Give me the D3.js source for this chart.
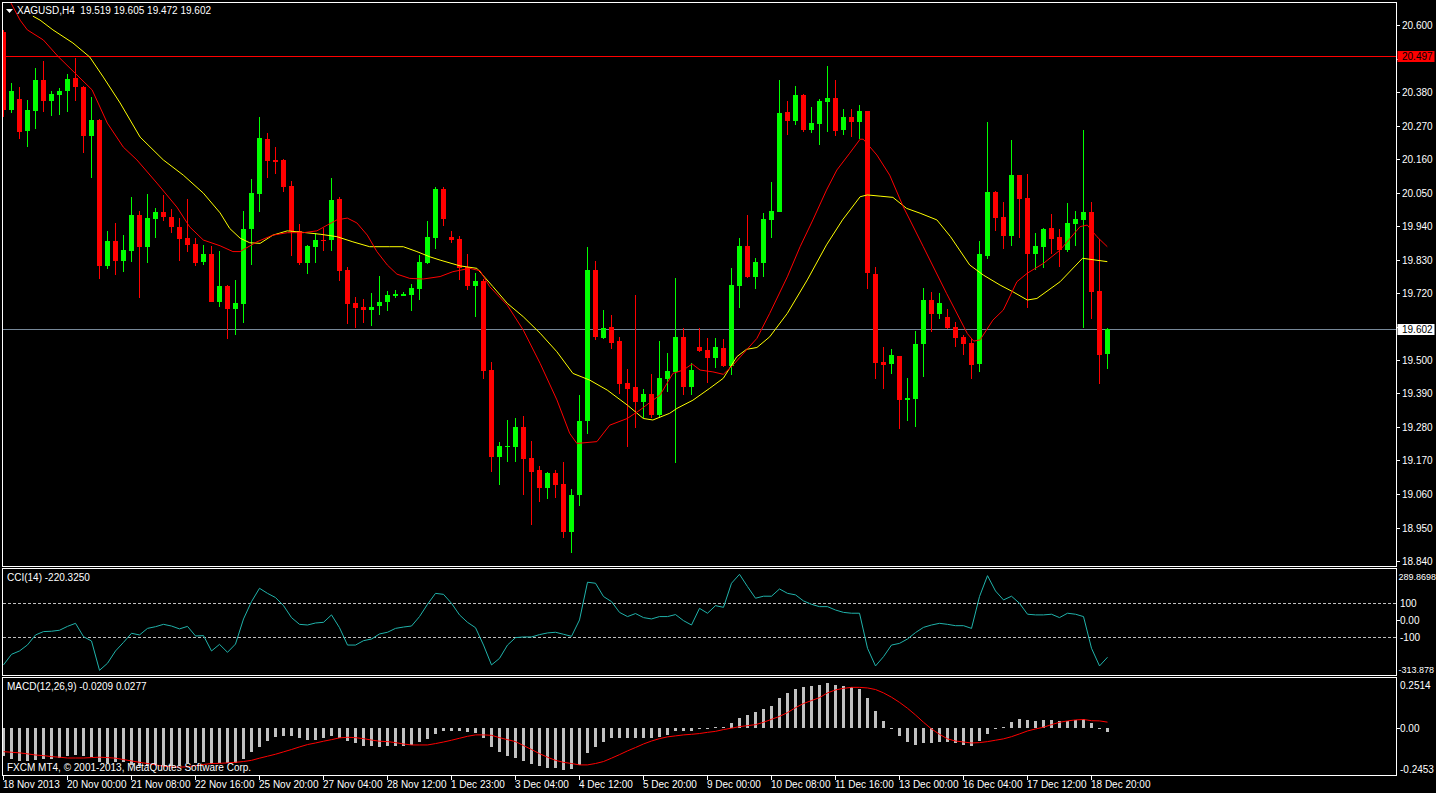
<!DOCTYPE html>
<html lang="en">
<head>
<meta charset="UTF-8" />
<title>XAGUSD,H4</title>
<script src="https://d3js.org/d3.v7.min.js"></script>
<style>
  html, body {
    margin: 0;
    padding: 0;
    background: #000;
    overflow: hidden;
  }
  svg {
    display: block;
    font-family: 'Liberation Sans', Arial, sans-serif;
    font-size: 10px;
  }
  text { fill: #fff; }
  .frame { fill: none; stroke: #fff; stroke-width: 1; shape-rendering: crispEdges; }
</style>
</head>
<body>
<div id="chart"></div>
<script>
  // ---- data ----
  const symbolTitle = 'XAGUSD,H4';
  const lastBar = ['19.519', '19.605', '19.472', '19.602'];

  const opens = [20.578,20.321,20.357,20.253,20.318,20.419,20.351,20.371,20.384,20.426,
    20.396,20.236,20.288,19.809,19.891,19.826,19.859,19.976,19.872,19.963,
    19.986,19.969,19.937,19.900,19.881,19.823,19.848,19.691,19.743,19.668,
    19.685,19.931,20.046,20.226,20.157,20.157,20.071,19.923,19.819,19.872,
    19.894,19.895,20.029,19.795,19.687,19.674,19.665,19.678,19.691,19.711,
    19.711,19.714,19.734,19.819,19.901,20.061,19.903,19.897,19.806,19.744,
    19.759,19.467,19.182,19.215,19.215,19.280,19.178,19.140,19.080,19.130,
    19.094,18.936,19.057,19.300,19.796,19.573,19.609,19.563,19.425,19.412,
    19.363,19.389,19.320,19.438,19.461,19.575,19.412,19.543,19.533,19.507,
    19.539,19.481,19.744,19.874,19.773,19.819,19.961,19.987,20.314,20.286,
    20.370,20.256,20.276,20.348,20.360,20.256,20.298,20.282,20.318,19.782,
    19.493,19.487,19.513,19.368,19.372,19.552,19.697,19.651,19.641,19.608,
    19.575,19.556,19.487,19.841,20.052,19.969,19.908,20.107,20.032,19.849,
    19.872,19.933,19.904,19.862,19.948,19.961,19.986,19.726,19.519];
  const highs = [20.583,20.409,20.396,20.354,20.459,20.482,20.383,20.393,20.439,20.492,
    20.400,20.364,20.292,19.924,19.950,19.910,20.035,19.989,20.045,19.999,
    20.042,19.996,19.966,20.029,19.900,19.877,19.874,19.859,19.746,19.763,
    19.989,20.094,20.298,20.245,20.199,20.160,20.088,19.946,19.878,19.918,
    19.934,20.097,20.035,19.806,19.707,19.700,19.721,19.776,19.727,19.731,
    19.723,19.749,19.845,19.956,20.068,20.068,19.923,19.907,19.849,19.786,
    19.767,19.493,19.232,19.304,19.310,19.316,19.235,19.153,19.133,19.140,
    19.165,19.077,19.385,19.871,19.826,19.665,19.649,19.576,19.470,19.713,
    19.406,19.455,19.563,19.524,19.768,19.605,19.489,19.605,19.572,19.572,
    19.569,19.801,19.900,19.976,19.835,19.983,20.084,20.418,20.350,20.400,
    20.373,20.331,20.357,20.465,20.419,20.324,20.324,20.337,20.318,19.805,
    19.543,19.536,19.513,19.441,19.595,19.736,19.723,19.720,19.667,19.625,
    19.582,19.572,19.891,20.281,20.055,20.019,20.222,20.107,20.111,19.917,
    19.933,19.979,19.930,20.015,19.989,20.255,20.019,19.897,19.605];
  const lows = [20.298,20.312,20.225,20.200,20.259,20.315,20.302,20.305,20.315,20.351,
    20.181,20.098,19.767,19.800,19.780,19.790,19.823,19.704,19.819,19.901,
    19.956,19.918,19.826,19.855,19.809,19.813,19.691,19.673,19.568,19.583,
    19.622,19.813,19.987,20.098,20.112,20.053,19.842,19.813,19.783,19.819,
    19.859,19.859,19.760,19.619,19.606,19.622,19.612,19.649,19.662,19.704,
    19.711,19.662,19.698,19.816,19.865,19.941,19.885,19.763,19.731,19.642,
    19.438,19.133,19.090,19.166,19.166,19.057,18.959,19.034,19.044,19.048,
    18.916,18.867,19.021,19.258,19.566,19.570,19.537,19.389,19.215,19.277,
    19.310,19.310,19.310,19.395,19.161,19.386,19.386,19.527,19.425,19.475,
    19.478,19.452,19.672,19.770,19.734,19.773,19.901,19.985,20.240,20.273,
    20.250,20.246,20.207,20.250,20.236,20.240,20.233,20.227,19.734,19.438,
    19.405,19.454,19.274,19.300,19.281,19.445,19.593,19.635,19.602,19.543,
    19.517,19.438,19.460,19.831,19.924,19.865,19.875,19.901,19.672,19.796,
    19.803,19.849,19.806,19.855,19.875,19.606,19.635,19.422,19.472];
  const closes = [20.321,20.383,20.250,20.321,20.419,20.351,20.373,20.383,20.423,20.397,
    20.236,20.288,19.809,19.891,19.826,19.861,19.976,19.872,19.966,19.986,
    19.969,19.938,19.898,19.878,19.819,19.848,19.691,19.743,19.668,19.688,
    19.930,20.048,20.229,20.154,20.151,20.069,19.923,19.819,19.874,19.894,
    19.892,20.025,19.793,19.685,19.672,19.665,19.674,19.690,19.713,19.717,
    19.717,19.736,19.822,19.904,20.061,19.964,19.894,19.803,19.744,19.759,
    19.465,19.182,19.217,19.217,19.280,19.176,19.133,19.080,19.130,19.090,
    18.936,19.057,19.300,19.796,19.576,19.606,19.557,19.422,19.406,19.363,
    19.389,19.320,19.441,19.464,19.575,19.412,19.467,19.530,19.507,19.543,
    19.481,19.746,19.874,19.773,19.822,19.963,19.989,20.311,20.286,20.370,
    20.256,20.278,20.350,20.360,20.253,20.298,20.282,20.318,19.785,19.491,
    19.483,19.516,19.368,19.375,19.552,19.697,19.651,19.687,19.605,19.572,
    19.552,19.483,19.848,20.052,19.967,19.908,20.107,20.030,19.849,19.874,
    19.930,19.898,19.862,19.950,19.963,19.986,19.724,19.517,19.602];

  // moving averages, sampled along the lines as [bar, price]
  const maFast = [[0.8,20.68],[2.1,20.616],[3.0,20.584],[5.0,20.551],[6.8,20.498],[9.2,20.436],
    [11.1,20.387],[13.0,20.278],[15.0,20.199],[16.7,20.157],[19.2,20.081],[21.7,20.002],
    [23.3,19.937],[25.0,19.894],[27.1,19.875],[28.7,19.856],[29.6,19.856],[31.7,19.888],
    [33.7,19.910],[35.5,19.918],[37.5,19.918],[39.2,19.924],[40.5,19.943],[41.7,19.960],
    [43.0,19.966],[44.2,19.950],[45.5,19.910],[46.7,19.856],[48.0,19.812],[49.2,19.782],
    [50.8,19.768],[52.5,19.766],[54.6,19.774],[56.2,19.790],[58.3,19.801],[59.6,19.793],
    [60.8,19.741],[63.0,19.680],[65.0,19.598],[67.1,19.489],[69.2,19.369],[70.8,19.259],
    [71.7,19.226],[74.2,19.232],[75.8,19.286],[78.0,19.308],[79.6,19.336],[81.2,19.368],
    [82.1,19.385],[83.7,19.456],[85.0,19.467],[86.1,19.487],[87.1,19.467],[88.7,19.461],
    [90.0,19.453],[91.2,19.483],[92.9,19.533],[94.2,19.571],[95.8,19.653],[98.0,19.773],
    [99.6,19.872],[101.2,19.960],[102.9,20.058],[104.2,20.124],[105.8,20.179],[107.1,20.225],
    [107.5,20.225],[109.2,20.173],[110.8,20.107],[112.5,20.003],[115.0,19.872],[117.9,19.719],
    [120.5,19.587],[121.3,19.562],[122.1,19.566],[123.7,19.631],[125.0,19.664],[126.7,19.757],
    [128.0,19.785],[130.0,19.817],[132.1,19.861],[134.6,19.938],[135.5,19.943],[136.7,19.905],
    [138.0,19.872]];
  const maSlow = [[3.7,20.629],[4.6,20.616],[6.2,20.584],[8.7,20.541],[10.8,20.495],[12.5,20.429],
    [14.6,20.344],[17.1,20.232],[20.0,20.157],[22.5,20.107],[25.0,20.048],[27.1,19.983],
    [28.3,19.932],[29.6,19.900],[30.8,19.885],[32.1,19.883],[33.7,19.910],[35.5,19.924],
    [37.5,19.919],[39.6,19.913],[41.7,19.905],[43.7,19.888],[45.8,19.872],[48.3,19.872],
    [50.0,19.872],[51.7,19.856],[53.3,19.839],[54.6,19.828],[57.1,19.809],[59.2,19.801],
    [61.2,19.741],[63.0,19.686],[65.0,19.642],[67.1,19.588],[69.2,19.527],[71.2,19.456],
    [73.3,19.434],[75.5,19.401],[78.0,19.352],[80.0,19.308],[81.2,19.303],[83.3,19.325],
    [84.2,19.341],[86.2,19.368],[88.3,19.407],[90.0,19.440],[91.7,19.511],[92.9,19.535],
    [94.2,19.541],[95.8,19.576],[98.0,19.653],[100.5,19.763],[102.9,19.878],[104.9,19.960],
    [107.1,20.036],[108.0,20.042],[109.6,20.038],[111.2,20.034],[112.9,19.998],[114.6,19.982],
    [116.7,19.960],[118.4,19.905],[120.8,19.812],[122.5,19.779],[124.6,19.746],[126.2,19.724],
    [128.0,19.697],[129.2,19.702],[132.1,19.757],[134.9,19.834],[138.0,19.823]];

  const alertLevel = 20.497;
  const bidPrice = 19.602;

  const cciValues = [-266,-203,-183,-147,-88,-68,-66,-60,-37,-19,
    -98,-124,-298,-256,-183,-132,-78,-88,-49,-39,
    -25,-35,-52,-37,-94,-92,-183,-144,-191,-142,
    7,110,189,159,134,86,15,-25,-29,-17,
    -13,31,-45,-148,-148,-122,-112,-82,-72,-49,
    -41,-35,21,94,159,153,100,31,-13,-45,
    -148,-266,-227,-148,-104,-100,-100,-86,-76,-72,
    -84,-96,1,225,219,140,110,46,21,39,
    15,7,21,21,33,-3,-29,70,41,86,
    76,219,272,199,130,142,142,185,159,150,
    114,94,80,80,60,46,41,41,-167,-272,
    -217,-148,-138,-112,-74,-43,-29,-19,-25,-33,
    -33,-49,140,264,173,120,142,100,35,31,
    31,35,15,41,35,21,-167,-272,-220.325];

  const macdHist = [-0.145,-0.159,-0.167,-0.171,-0.164,-0.159,-0.159,-0.152,-0.145,-0.139,
    -0.142,-0.150,-0.176,-0.181,-0.176,-0.176,-0.189,-0.193,-0.196,-0.189,
    -0.193,-0.193,-0.189,-0.179,-0.179,-0.176,-0.184,-0.179,-0.179,-0.179,
    -0.159,-0.125,-0.096,-0.069,-0.049,-0.041,-0.044,-0.054,-0.061,-0.061,
    -0.054,-0.044,-0.052,-0.069,-0.079,-0.091,-0.095,-0.100,-0.095,-0.095,
    -0.091,-0.086,-0.074,-0.059,-0.034,-0.019,-0.015,-0.019,-0.024,-0.029,
    -0.054,-0.100,-0.125,-0.145,-0.155,-0.171,-0.186,-0.196,-0.203,-0.203,
    -0.216,-0.211,-0.189,-0.130,-0.100,-0.074,-0.054,-0.051,-0.051,-0.051,
    -0.051,-0.051,-0.046,-0.037,-0.019,-0.019,-0.019,-0.008,-0.003,0.003,
    0.003,0.025,0.051,0.066,0.078,0.095,0.111,0.152,0.177,0.198,
    0.208,0.213,0.218,0.225,0.218,0.213,0.204,0.198,0.152,0.086,
    0.035,-0.002,-0.044,-0.074,-0.086,-0.079,-0.079,-0.074,-0.074,-0.079,
    -0.086,-0.091,-0.066,-0.034,-0.008,0.003,0.030,0.046,0.041,0.035,
    0.041,0.041,0.035,0.035,0.041,0.046,0.025,-0.008,-0.0209];
  const macdSignal = [-0.122,-0.125,-0.128,-0.133,-0.139,-0.142,-0.147,-0.150,-0.154,-0.154,
    -0.154,-0.152,-0.150,-0.152,-0.155,-0.162,-0.169,-0.176,-0.182,-0.189,
    -0.196,-0.199,-0.201,-0.198,-0.193,-0.187,-0.182,-0.181,-0.179,-0.176,
    -0.172,-0.166,-0.155,-0.145,-0.135,-0.123,-0.111,-0.098,-0.086,-0.078,
    -0.069,-0.061,-0.052,-0.049,-0.051,-0.056,-0.063,-0.069,-0.071,-0.076,
    -0.083,-0.088,-0.088,-0.088,-0.081,-0.073,-0.064,-0.054,-0.044,-0.037,
    -0.037,-0.039,-0.051,-0.061,-0.071,-0.091,-0.111,-0.132,-0.150,-0.166,
    -0.176,-0.182,-0.189,-0.189,-0.182,-0.172,-0.155,-0.137,-0.118,-0.101,
    -0.083,-0.068,-0.056,-0.047,-0.042,-0.037,-0.034,-0.030,-0.024,-0.019,
    -0.010,-0.003,0.005,0.010,0.015,0.027,0.042,0.057,0.076,0.101,
    0.122,0.137,0.152,0.176,0.191,0.199,0.204,0.204,0.201,0.193,
    0.176,0.154,0.128,0.098,0.064,0.027,-0.007,-0.034,-0.057,-0.068,
    -0.073,-0.078,-0.076,-0.071,-0.064,-0.057,-0.046,-0.032,-0.017,-0.007,
    0.002,0.015,0.027,0.034,0.039,0.041,0.035,0.034,0.0277];

  const priceTicks = ['20.600','20.490','20.380','20.270','20.160','20.050','19.940','19.830',
    '19.720','19.610','19.500','19.390','19.280','19.170','19.060','18.950','18.840'];
  const cciRange = [-313.878, 289.8698];
  const cciLevels = [100, -100];
  const macdRange = [-0.2453, 0.2514];

  const timeLabels = ['18 Nov 2013','20 Nov 00:00','21 Nov 08:00','22 Nov 16:00','25 Nov 20:00',
    '27 Nov 04:00','28 Nov 12:00','1 Dec 23:00','3 Dec 04:00','4 Dec 12:00','5 Dec 20:00',
    '9 Dec 00:00','10 Dec 08:00','11 Dec 16:00','13 Dec 00:00','16 Dec 04:00','17 Dec 12:00',
    '18 Dec 20:00'];
  const labelEvery = 8; // bars between time labels

  // ---- layout ----
  const width = 1436, height = 793;
  const left = 2.5, right = 1396.5;
  const mainPane = { top: 2.5, bottom: 566.5 };
  const cciPane  = { top: 568.5, bottom: 675.5 };
  const macdPane = { top: 677.5, bottom: 775.5 };

  const svg = d3.select('#chart').append('svg')
    .attr('width', width)
    .attr('height', height);

  svg.append('rect').attr('width', width).attr('height', height).attr('fill', '#000');

  const nBars = closes.length;
  const x = d3.scaleLinear().domain([0, nBars - 1]).range([3.3, 3.3 + 8 * (nBars - 1)]);
  const px = i => Math.round(x(i));

  const y = d3.scaleLinear().domain([18.84, 20.6]).range([561, 25]);
  const yCci = d3.scaleLinear().domain(cciRange).range([673, 571.3]);
  const yMacd = d3.scaleLinear().domain(macdRange).range([776, 678]);

  // clip paths
  const defs = svg.append('defs');
  [['clipMain', mainPane], ['clipCci', cciPane], ['clipMacd', macdPane]].forEach(([id, p]) => {
    defs.append('clipPath').attr('id', id)
      .append('rect')
      .attr('x', left + 0.5).attr('y', p.top + 0.5)
      .attr('width', right - left - 1).attr('height', p.bottom - p.top - 1);
  });

  // ---- main pane ----
  const gMain = svg.append('g').attr('clip-path', 'url(#clipMain)');

  gMain.append('line')
    .attr('x1', left).attr('x2', right)
    .attr('y1', Math.round(y(alertLevel)) + 0.5).attr('y2', Math.round(y(alertLevel)) + 0.5)
    .attr('stroke', '#ff0000').attr('shape-rendering', 'crispEdges');

  gMain.append('line')
    .attr('x1', left).attr('x2', right)
    .attr('y1', Math.round(y(bidPrice)) + 0.5).attr('y2', Math.round(y(bidPrice)) + 0.5)
    .attr('stroke', '#778899').attr('shape-rendering', 'crispEdges');

  const candles = d3.range(nBars).map(i => ({
    i, o: opens[i], h: highs[i], l: lows[i], c: closes[i]
  }));

  const cg = gMain.selectAll('g.candle').data(candles).enter()
    .append('g').attr('class', 'candle')
    .attr('shape-rendering', 'crispEdges');

  const colorOf = d => d.c >= d.o ? '#00ff00' : '#ff0000';

  cg.append('line')
    .attr('x1', d => px(d.i) + 0.5).attr('x2', d => px(d.i) + 0.5)
    .attr('y1', d => y(d.h)).attr('y2', d => y(d.l))
    .attr('stroke', colorOf);

  cg.append('rect')
    .attr('x', d => px(d.i) - 2)
    .attr('width', 5)
    .attr('y', d => y(Math.max(d.o, d.c)))
    .attr('height', d => Math.max(1, Math.abs(y(d.o) - y(d.c))))
    .attr('fill', colorOf);

  const maLine = d3.line().x(d => x(d[0])).y(d => y(d[1]));
  gMain.append('path').datum(maSlow)
    .attr('d', maLine).attr('fill', 'none').attr('stroke', '#ffff00').attr('stroke-width', 1);
  gMain.append('path').datum(maFast)
    .attr('d', maLine).attr('fill', 'none').attr('stroke', '#ff0000').attr('stroke-width', 1);

  // header
  svg.append('path')
    .attr('d', d3.line()([[6, 9], [13, 9], [9.5, 13]]) + 'Z')
    .attr('fill', '#fff');
  svg.append('text')
    .attr('x', 17).attr('y', 14)
    .attr('xml:space', 'preserve')
    .text(symbolTitle + '  ' + lastBar.join(' '));

  // price axis
  const tagPrices = [alertLevel, bidPrice];
  const gAxis = svg.append('g');
  priceTicks.forEach(t => {
    const ty = Math.round(y(+t)) + 0.5;
    gAxis.append('line')
      .attr('x1', right + 0.5).attr('x2', right + 3.5)
      .attr('y1', ty).attr('y2', ty)
      .attr('stroke', '#fff').attr('shape-rendering', 'crispEdges');
    // labels hidden behind a price tag are not drawn
    const covered = tagPrices.some(p => Math.abs(y(p) - y(+t)) < 10);
    if (!covered) {
      gAxis.append('text')
        .attr('x', 1402).attr('y', ty + 3.5)
        .text(t);
    }
  });

  function priceTag(value, bg, fg) {
    const ty = Math.round(y(value));
    gAxis.append('rect')
      .attr('x', right + 1).attr('y', ty - 5)
      .attr('width', 37).attr('height', 11)
      .attr('fill', bg);
    gAxis.append('text')
      .attr('x', 1402).attr('y', ty + 4)
      .style('fill', fg)
      .text(value.toFixed(3));
  }
  priceTag(alertLevel, '#ff0000', '#000');
  priceTag(bidPrice, '#ffffff', '#000');

  // ---- CCI pane ----
  const gCci = svg.append('g').attr('clip-path', 'url(#clipCci)');
  cciLevels.forEach(v => {
    gCci.append('line')
      .attr('x1', left).attr('x2', right)
      .attr('y1', Math.round(yCci(v)) + 0.5).attr('y2', Math.round(yCci(v)) + 0.5)
      .attr('stroke', '#c0c0c0').attr('stroke-dasharray', '3,2')
      .attr('shape-rendering', 'crispEdges');
  });
  gCci.append('path').datum(cciValues)
    .attr('d', d3.line().x((d, i) => px(i) + 0.5).y(d => yCci(d)))
    .attr('fill', 'none').attr('stroke', '#20b2aa').attr('stroke-width', 1);

  svg.append('text').attr('x', 7).attr('y', 581)
    .text('CCI(14) ' + cciValues[nBars - 1].toFixed(4));

  const cciLabels = [
    { v: cciRange[1], t: '289.8698', dy: 8.5, small: true },
    { v: 100, t: '100', dy: 3.5 },
    { v: 0, t: '0.00', dy: 3.5, tick: true },
    { v: -100, t: '-100', dy: 3.5 },
    { v: cciRange[0], t: '-313.878', dy: -0.5, small: true }
  ];
  cciLabels.forEach(d => {
    const ty = Math.round(yCci(d.v)) + 0.5;
    if (d.tick) {
      svg.append('line').attr('x1', right + 0.5).attr('x2', right + 3.5)
        .attr('y1', ty).attr('y2', ty).attr('stroke', '#fff').attr('shape-rendering', 'crispEdges');
    }
    // the long extreme labels use a smaller size so they stay inside the window
    svg.append('text')
      .attr('x', d.small ? 1398.5 : 1400)
      .attr('y', ty + d.dy)
      .style('font-size', d.small ? '9px' : null)
      .text(d.t);
  });

  // ---- MACD pane ----
  const gMacd = svg.append('g').attr('clip-path', 'url(#clipMacd)');
  const zeroY = Math.round(yMacd(0));
  gMacd.selectAll('rect.hist').data(macdHist).enter()
    .append('rect').attr('class', 'hist')
    .attr('x', (d, i) => px(i) - 1)
    .attr('width', 3)
    .attr('y', d => d >= 0 ? Math.round(yMacd(d)) : zeroY)
    .attr('height', d => Math.max(1, Math.abs(Math.round(yMacd(d)) - zeroY)))
    .attr('fill', '#c0c0c0')
    .attr('shape-rendering', 'crispEdges');
  gMacd.append('path').datum(macdSignal)
    .attr('d', d3.line().x((d, i) => px(i) + 0.5).y(d => yMacd(d)))
    .attr('fill', 'none').attr('stroke', '#ff0000').attr('stroke-width', 1);

  svg.append('text').attr('x', 7).attr('y', 690)
    .text('MACD(12,26,9) ' + macdHist[nBars - 1].toFixed(4) + ' ' + macdSignal[nBars - 1].toFixed(4));
  svg.append('text').attr('x', 7).attr('y', 771)
    .text('FXCM MT4, \u00a9 2001-2013, MetaQuotes Software Corp.');

  const macdLabels = [
    { v: macdRange[1], t: '0.2514', dy: 10 },
    { v: 0, t: '0.00', dy: 3.5, tick: true },
    { v: macdRange[0], t: '-0.2453', dy: -4 }
  ];
  macdLabels.forEach(d => {
    const ty = Math.round(yMacd(d.v)) + 0.5;
    if (d.tick) {
      svg.append('line').attr('x1', right + 0.5).attr('x2', right + 3.5)
        .attr('y1', ty).attr('y2', ty).attr('stroke', '#fff').attr('shape-rendering', 'crispEdges');
    }
    svg.append('text').attr('x', 1400).attr('y', ty + d.dy).text(d.t);
  });

  // ---- frames ----
  [mainPane, cciPane, macdPane].forEach(p => {
    svg.append('rect').attr('class', 'frame')
      .attr('x', left).attr('y', p.top)
      .attr('width', right - left).attr('height', p.bottom - p.top);
  });

  // ---- time axis ----
  timeLabels.forEach((t, k) => {
    const tx = px(k * labelEvery);
    svg.append('line')
      .attr('x1', tx + 0.5).attr('x2', tx + 0.5)
      .attr('y1', macdPane.bottom).attr('y2', macdPane.bottom + 4)
      .attr('stroke', '#fff').attr('shape-rendering', 'crispEdges');
    svg.append('text').attr('x', tx).attr('y', 788).text(t);
  });
</script>
</body>
</html>
